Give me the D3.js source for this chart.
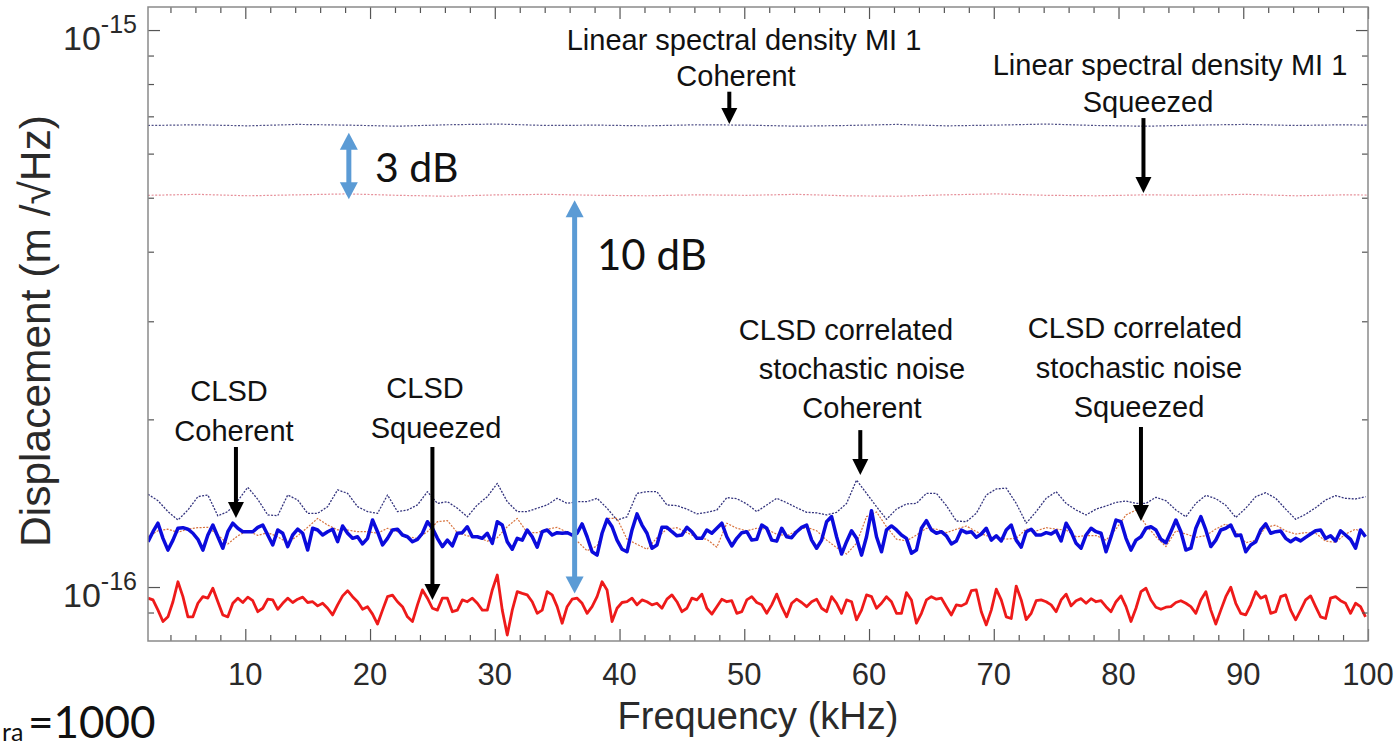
<!DOCTYPE html>
<html><head><meta charset="utf-8">
<script src="https://cdn.jsdelivr.net/npm/d3@7"></script>
<style>body{margin:0;background:#fff;overflow:hidden} svg{display:block}</style>
</head><body>
<svg id="c" width="1399" height="749"></svg>
<script>
// ---------------- DATA ----------------
const UNIT = 1e-16;              // values below are in units of 1e-16 m/sqrt(Hz)
const F_START = 2.2;             // kHz, first sample
const STEP_FINE = 0.4;           // kHz, thick CLSD traces
const STEP_MID = 0.8;            // kHz, dotted correlated-noise traces
const STEP_LSD = 4;              // kHz, linear spectral density traces

// CLSD Squeezed (red, thick)
const clsdSqueezed = [
0.955,0.948,0.909,0.867,0.884,0.941,1.022,0.961,0.884,0.884,
0.935,0.961,0.955,0.995,0.941,0.891,0.884,0.935,0.955,0.938,
0.959,0.945,0.903,0.916,0.951,0.948,0.912,0.935,0.955,0.938,
0.951,0.959,0.938,0.941,0.925,0.935,0.916,0.891,0.929,0.964,
0.985,0.961,0.941,0.912,0.922,0.894,0.858,0.909,0.961,0.967,
0.941,0.922,0.884,0.867,0.929,0.988,0.955,0.916,0.909,0.955,
0.955,0.903,
0.909,0.948,0.941,0.955,0.935,0.909,0.909,0.988,1.051,0.909,
0.820,0.909,0.981,0.974,0.968,0.941,0.897,0.909,0.981,0.968,
0.922,0.861,0.922,0.951,0.955,0.935,0.897,0.922,0.961,1.022,
0.988,0.867,0.916,0.938,0.941,0.955,0.929,0.948,0.941,0.929,
0.935,0.916,0.951,0.968,0.941,0.903,0.916,0.955,0.948,0.971,
0.916,0.894,0.922,0.951,0.941,0.945,0.897,0.903,0.948,0.961,
0.938,
0.929,0.897,0.929,0.971,0.922,0.884,0.935,0.951,0.938,0.922,
0.941,0.951,0.916,0.903,0.961,0.935,0.897,0.948,0.941,0.873,
0.909,0.968,0.961,0.916,0.935,0.961,0.941,0.897,0.897,0.977,
0.948,0.861,0.897,0.948,0.961,0.951,0.955,0.922,0.891,0.929,
0.925,0.935,0.985,0.988,0.903,0.855,0.909,0.991,0.948,0.884,
0.878,1.004,0.948,0.874,0.897,0.945,0.948,0.941,0.929,0.903,
0.948,
0.971,0.925,0.945,0.953,0.935,0.953,0.941,0.945,0.922,0.903,
0.941,0.964,0.922,0.867,0.916,0.981,0.995,0.948,0.920,0.912,
0.920,0.922,0.938,0.945,0.935,0.922,0.897,0.948,0.981,0.909,
0.858,0.909,0.961,0.999,0.935,0.897,0.891,0.929,0.981,0.955,
0.964,0.897,0.903,0.961,0.968,0.909,0.873,0.909,0.948,0.964,
0.922,0.884,0.878,0.955,0.961,0.945,0.935,0.897,0.935,0.922,
0.884
];

// CLSD Coherent (blue, thick)
const clsdCoherent = [
1.206,1.257,1.302,1.223,1.165,1.214,1.275,1.278,1.270,1.249,
1.218,1.165,1.240,1.292,1.231,1.174,1.257,1.302,1.275,1.257,
1.257,1.257,1.280,1.292,1.240,1.190,1.266,1.249,1.182,1.240,
1.270,1.249,1.165,1.275,1.266,1.240,1.257,1.270,1.206,1.287,
1.249,1.223,1.231,1.195,1.223,1.319,1.257,1.190,1.223,1.266,
1.270,1.240,1.231,1.206,1.218,1.249,1.310,1.275,1.223,1.182,
1.214,1.185,
1.249,1.252,1.283,1.231,1.231,1.223,1.249,1.198,1.310,1.292,
1.206,1.169,1.223,1.214,1.266,1.231,1.179,1.257,1.266,1.240,
1.252,1.249,1.252,1.240,1.249,1.298,1.231,1.157,1.141,1.249,
1.323,1.283,1.214,1.169,1.157,1.266,1.353,1.292,1.249,1.174,
1.190,1.280,1.280,1.257,1.236,1.240,1.280,1.257,1.223,1.223,
1.266,1.249,1.275,1.302,1.231,1.185,1.223,1.252,1.257,1.214,
1.218,
1.292,1.275,1.214,1.209,1.275,1.231,1.226,1.257,1.280,1.292,
1.214,1.174,1.214,1.310,1.338,1.231,1.146,1.206,1.262,1.223,
1.141,1.231,1.371,1.231,1.157,1.266,1.287,1.266,1.240,1.223,
1.150,1.165,1.275,1.316,1.266,1.249,1.257,1.236,1.195,1.210,
1.266,1.252,1.257,1.228,1.245,1.275,1.214,1.236,1.210,1.266,
1.292,1.214,1.179,1.257,1.270,1.240,1.240,1.252,1.245,1.262,
1.210,
1.302,1.257,1.198,1.174,1.240,1.275,1.257,1.249,1.157,1.231,
1.319,1.310,1.223,1.165,1.214,1.231,1.275,1.283,1.266,1.218,
1.201,1.257,1.319,1.257,1.165,1.174,1.275,1.338,1.266,1.182,
1.214,1.266,1.275,1.292,1.236,1.240,1.157,1.190,1.206,1.266,
1.298,1.249,1.257,1.261,1.223,1.206,1.223,1.210,1.228,1.245,
1.262,1.266,1.223,1.236,1.210,1.262,1.240,1.218,1.174,1.266,
1.231
];

// CLSD correlated stochastic noise Coherent (navy, dotted)
const corrCoherent = [
1.467,1.429,1.366,1.319,1.375,1.453,1.463,1.342,1.366,1.429,1.510,1.437,1.347,1.343,1.463,1.433,1.356,1.356,1.394,1.494,1.473,1.394,1.366,1.356,1.463,1.366,1.375,1.404,1.483,1.413,1.423,
1.385,1.337,1.404,1.453,1.535,1.423,1.366,1.366,1.385,1.404,1.443,1.413,1.423,1.423,1.443,1.385,1.319,1.337,1.473,1.483,1.483,1.404,1.400,1.380,1.353,1.362,1.375,1.447,1.441,1.410,1.366,
1.404,1.443,1.417,1.388,1.362,1.359,1.347,1.362,1.413,1.556,1.473,1.394,1.323,1.380,1.410,1.413,1.473,1.473,1.400,1.314,1.310,1.356,1.463,1.500,1.505,1.413,1.302,1.366,1.443,1.483,
1.413,1.375,1.347,1.380,1.398,1.419,1.427,1.413,1.413,1.449,1.429,1.375,1.337,1.413,1.461,1.441,1.402,1.333,1.385,1.453,1.477,1.443,1.380,1.323,1.351,1.388,1.433,1.459,1.443,1.439,1.453
];

// CLSD correlated stochastic noise Squeezed (orange, dotted)
const corrSqueezed = [
1.231,1.262,1.270,1.254,1.271,1.278,1.280,1.240,1.195,1.236,1.262,1.238,1.252,1.231,1.201,1.236,1.280,1.328,1.292,1.266,1.266,1.257,1.257,1.249,1.275,1.257,1.231,1.223,1.257,1.310,1.316,
1.252,1.236,1.228,1.209,1.226,1.283,1.328,1.252,1.252,1.270,1.280,1.254,1.209,1.162,1.185,1.328,1.328,1.219,1.193,1.169,1.226,1.271,1.278,1.252,1.228,1.218,1.179,1.302,1.275,1.262,1.275,
1.270,1.244,1.236,1.262,1.280,1.262,1.214,1.177,1.146,1.198,1.338,1.364,1.283,1.219,1.210,1.240,1.275,1.270,1.252,1.270,1.287,1.257,1.237,1.226,1.219,1.223,1.271,1.261,1.278,1.270,
1.266,1.231,1.237,1.237,1.214,1.271,1.347,1.375,1.292,1.231,1.182,1.262,1.245,1.228,1.237,1.271,1.298,1.257,1.201,1.214,1.280,1.292,1.261,1.245,1.252,1.249,1.209,1.203,1.245,1.270,1.249
];

// Linear spectral density MI 1 (dotted)
const lsdCoherent = [6.74,6.76,6.73,6.77,6.75,6.72,6.76,6.78,6.74,6.75,6.73,6.76,6.75,6.72,6.74,6.77,6.73,6.75,6.78,6.74,6.72,6.75,6.77,6.74,6.76,6.73];
const lsdSqueezed = [5.05,5.07,5.04,5.06,5.08,5.05,5.03,5.06,5.07,5.05,5.04,5.06,5.05,5.07,5.04,5.03,5.06,5.08,5.05,5.04,5.06,5.05,5.07,5.04,5.06,5.05];

// Axes
const xDomain = [2.2, 100];
const yDomain = [8e-17, 1.1e-15];
const xMajorTicks = [10,20,30,40,50,60,70,80,90,100];
const xTickLabels = ["10","20","30","40","50","60","70","80","90","100"];
const yMajorTicks = [1e-16, 1e-15];
const yTickExponents = ["-16", "-15"];
const yMinorTicks = [9e-17,2e-16,3e-16,4e-16,5e-16,6e-16,7e-16,8e-16,9e-16];

// ---------------- CHART ----------------
const svg = d3.select("#c");
const L = 148, R = 1368, T = 7, B = 641;
const x = d3.scaleLinear().domain(xDomain).range([L, R]);
const y = d3.scaleLog().domain(yDomain).range([B, T]);
const xMinorTicks = d3.range(4, 100, 2).filter(v => v % 10 !== 0);

svg.append("defs").append("clipPath").attr("id","plot")
  .append("rect").attr("x",L).attr("y",T).attr("width",R-L).attr("height",B-T);

const series = (arr, step) => arr.map((v,i) => ({f: F_START + i*step, v: v*UNIT}));
const line = d3.line().x(d => x(d.f)).y(d => y(d.v));

const g = svg.append("g").attr("clip-path","url(#plot)");
function draw(data, color, w, dash){
  g.append("path").datum(data).attr("d", line)
   .attr("fill","none").attr("stroke",color).attr("stroke-width",w)
   .attr("stroke-linejoin","round").attr("stroke-dasharray",dash||null);
}
draw(series(lsdCoherent, STEP_LSD), "#4f4f86", 1.2, "2,1.6");
draw(series(lsdSqueezed, STEP_LSD), "#e6909a", 1.2, "2,1.6");
draw(series(corrCoherent, STEP_MID), "#33337d", 1.3, "2,1.4");
draw(series(corrSqueezed, STEP_MID), "#d8743f", 1.2, "2,1.4");
draw(series(clsdCoherent, STEP_FINE), "#0b0bdc", 3.5);
draw(series(clsdSqueezed, STEP_FINE), "#ee1a1a", 2.8);

// frame & ticks
const axisColor = "#8a8a8a";
function tickAxis(axis, tx, ty, vals, size){
  const a = svg.append("g").attr("transform",`translate(${tx},${ty})`)
    .call(axis.tickValues(vals).tickSize(size).tickSizeOuter(0).tickFormat(""));
  a.select(".domain").remove();
  a.selectAll("line").attr("stroke","#555").attr("stroke-width",1.2);
}
tickAxis(d3.axisBottom(x), 0, B, xMajorTicks, -12);
tickAxis(d3.axisBottom(x), 0, B, xMinorTicks, -6);
tickAxis(d3.axisTop(x), 0, T, xMajorTicks, -12);
tickAxis(d3.axisTop(x), 0, T, xMinorTicks, -6);
tickAxis(d3.axisLeft(y), L, 0, yMajorTicks, -12);
tickAxis(d3.axisLeft(y), L, 0, yMinorTicks, -6);
tickAxis(d3.axisRight(y), R, 0, yMajorTicks, -12);
tickAxis(d3.axisRight(y), R, 0, yMinorTicks, -6);
svg.append("rect").attr("x",L).attr("y",T).attr("width",R-L).attr("height",B-T)
  .attr("fill","none").attr("stroke",axisColor).attr("stroke-width",1.5);

const FONT = "'Liberation Sans', Arial, sans-serif";
// x tick labels
svg.append("g").selectAll("text").data(xMajorTicks).join("text")
  .attr("x", d => x(d)).attr("y", 685).attr("text-anchor","middle")
  .attr("font-family",FONT).attr("font-size",31).attr("fill","#2a2a2a")
  .text((d,i) => xTickLabels[i]);
// y tick labels
yMajorTicks.forEach((t,i) => {
  const tx = svg.append("text").attr("x",137).attr("y", y(t)+19.5).attr("text-anchor","end")
    .attr("font-family",FONT).attr("fill","#2a2a2a");
  tx.append("tspan").attr("font-size",34).text("10");
  tx.append("tspan").attr("font-size",25).attr("dy",-17).text(yTickExponents[i]);
});
// axis titles
svg.append("text").attr("x",758).attr("y",729).attr("text-anchor","middle")
  .attr("font-family",FONT).attr("font-size",38).attr("fill","#2a2a2a").text("Frequency (kHz)");
svg.append("text").attr("transform","translate(50,331) rotate(-90)").attr("text-anchor","middle")
  .attr("font-family",FONT).attr("font-size",42.5).attr("fill","#2a2a2a").text("Displacement (m /\u221AHz)");

// annotations text
const notes = [
  {x:744, y:50, t:"Linear spectral density MI 1"},
  {x:736, y:86, t:"Coherent"},
  {x:1170, y:75, t:"Linear spectral density MI 1"},
  {x:1148, y:112, t:"Squeezed"},
  {x:229, y:401, t:"CLSD"},
  {x:234, y:441, t:"Coherent"},
  {x:425, y:398, t:"CLSD"},
  {x:436, y:438, t:"Squeezed"},
  {x:846, y:340, t:"CLSD correlated"},
  {x:862, y:379, t:"stochastic noise"},
  {x:862, y:418, t:"Coherent"},
  {x:1135, y:338, t:"CLSD correlated"},
  {x:1139, y:378, t:"stochastic noise"},
  {x:1139, y:417, t:"Squeezed"}
];
svg.append("g").selectAll("text").data(notes).join("text")
  .attr("x",d=>d.x).attr("y",d=>d.y).attr("text-anchor","middle")
  .attr("font-family",FONT).attr("font-size",29).attr("fill","#111").text(d=>d.t);

// arrows (in data coordinates)
const blackArrows = [
  {f:48.8, from:7.75e-16, to:6.78e-16},
  {f:82.0, from:6.95e-16, to:5.10e-16},
  {f:9.25, from:1.784e-16, to:1.330e-16},
  {f:25.0, from:1.784e-16, to:0.948e-16},
  {f:59.3, from:1.913e-16, to:1.589e-16},
  {f:81.8, from:1.938e-16, to:1.314e-16}
];
const blueArrows = [
  {f:18.3, from:6.54e-16, to:4.97e-16},
  {f:36.4, from:4.95e-16, to:0.974e-16}
];
function head(xp, tip, dir, len, hw){
  return `M${xp},${tip} L${xp-hw},${tip-dir*len} L${xp+hw},${tip-dir*len} Z`;
}
const ag = svg.append("g");
blackArrows.forEach(a => {
  const xp = x(a.f), y1 = y(a.from), y2 = y(a.to);
  ag.append("line").attr("x1",xp).attr("x2",xp).attr("y1",y1).attr("y2",y2-14)
    .attr("stroke","#000").attr("stroke-width",4);
  ag.append("path").attr("d",head(xp,y2,1,16,8)).attr("fill","#000");
});
blueArrows.forEach(a => {
  const xp = x(a.f), y1 = y(a.from), y2 = y(a.to);
  ag.append("line").attr("x1",xp).attr("x2",xp).attr("y1",y1+15).attr("y2",y2-15)
    .attr("stroke","#5b9bd5").attr("stroke-width",5);
  ag.append("path").attr("d",head(xp,y2,1,17,9)).attr("fill","#5b9bd5");
  ag.append("path").attr("d",head(xp,y1,-1,17,9)).attr("fill","#5b9bd5");
});

const CAL = "Lato, 'Open Sans', sans-serif";
svg.append("text").attr("x",375).attr("y",182).attr("font-family",CAL).attr("font-size",41).attr("fill","#111").text("3 dB");
svg.append("text").attr("x",597).attr("y",270).attr("font-family",CAL).attr("font-size",42).attr("fill","#111").text("10 dB");
svg.append("text").attr("x",2).attr("y",741).attr("font-family",CAL).attr("font-size",25).attr("fill","#111").text("ra");
svg.append("text").attr("x",28).attr("y",738).attr("font-family",CAL).attr("font-size",44).attr("fill","#111").text("=1000");
</script>
</body></html>
